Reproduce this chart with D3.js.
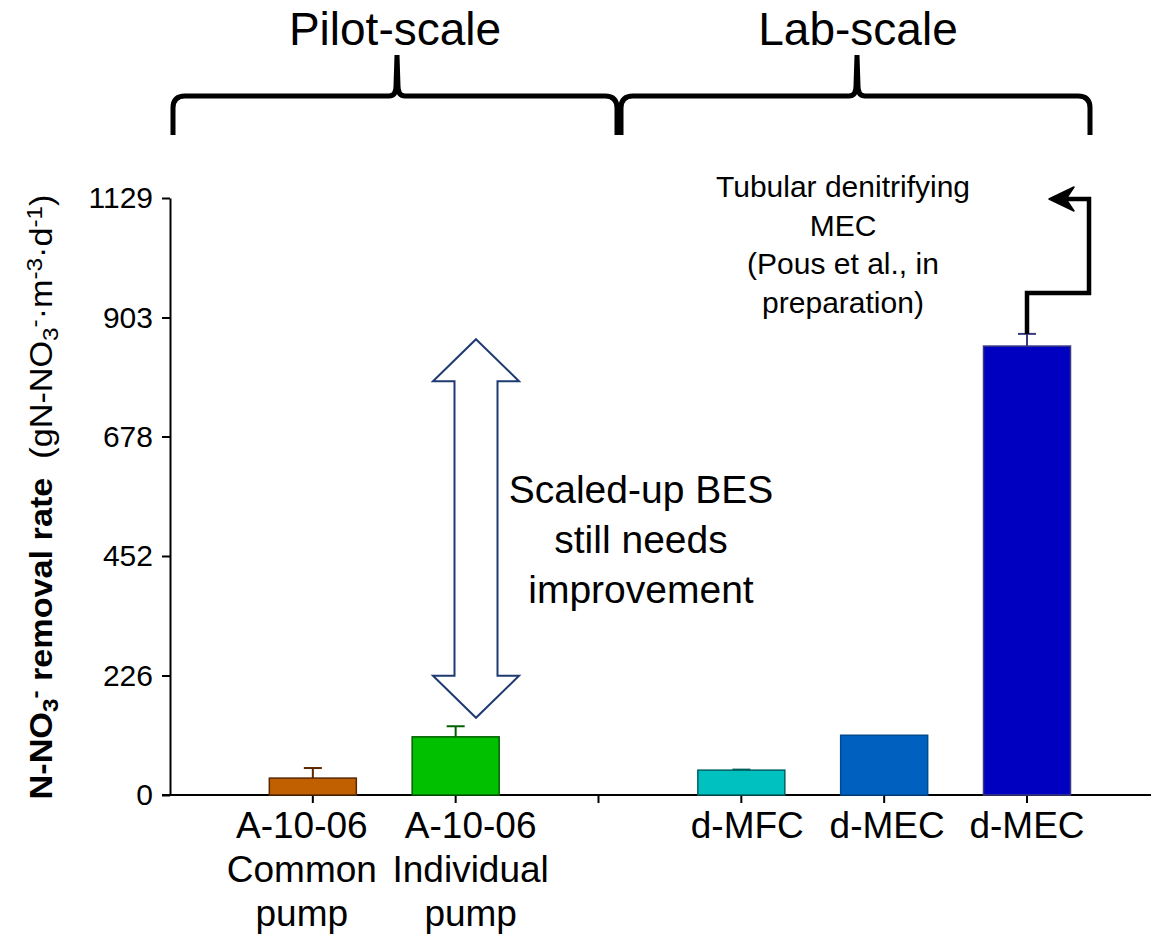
<!DOCTYPE html>
<html>
<head>
<meta charset="utf-8">
<script src="https://cdn.jsdelivr.net/npm/d3@7"></script>
<style>
  body { margin: 0; background: #fff; }
  svg { display: block; font-family: "Liberation Sans", Arial, sans-serif; }
</style>
</head>
<body>
<svg id="chart" width="1151" height="941"></svg>
<script>
// slots along the x axis: an empty origin slot, two pilot bars, a separator tick, three lab bars
const slots = ["origin", "A1", "A2", "sep", "MFC", "MEC1", "MEC2"];
const barSlots = ["A1", "A2", "MFC", "MEC1", "MEC2"];
const barLabels = [["A-10-06", "Common", "pump"], ["A-10-06", "Individual", "pump"], ["d-MFC"], ["d-MEC"], ["d-MEC"]];
const labelShift = [-11, 15, 6, 3, 0];   // the pilot labels sit a little apart from their ticks
const values = [32, 110, 47, 113, 849];
const errors = [19, 20, 1, 0, 23];
const fills = ["#C06000", "#00C000", "#00C0C0", "#0060C0", "#0000C0"];
const strokes = ["#5A2800", "#006000", "#006060", "#004A90", "#3A3A80"];
const yTicks = [0, 226, 452, 678, 903, 1129];

const svg = d3.select("#chart");

const x = d3.scalePoint().domain(slots).range([170, 1027]);
const y = d3.scaleLinear().domain([0, 1129]).range([795, 198]);
const barW = 87;

// y axis
const yAxis = svg.append("g")
    .attr("transform", "translate(170,0)")
    .call(d3.axisLeft(y).tickValues(yTicks).tickFormat(d3.format("d"))
        .tickSize(8).tickSizeOuter(0).tickPadding(9));
yAxis.select(".domain").attr("stroke", "#000").attr("stroke-width", 2);
yAxis.selectAll(".tick line").attr("stroke", "#000").attr("stroke-width", 2);
yAxis.selectAll(".tick text")
    .attr("fill", "#000")
    .style("font-size", "30px")
    .style("font-family", "Liberation Sans, Arial, sans-serif");

// x axis (line runs off to the right edge)
svg.append("line")
    .attr("x1", 162).attr("x2", 1151)
    .attr("y1", y(0)).attr("y2", y(0))
    .attr("stroke", "#000").attr("stroke-width", 2);
svg.append("g").selectAll("line")
    .data(slots.slice(1))
    .join("line")
    .attr("x1", d => x(d)).attr("x2", d => x(d))
    .attr("y1", y(0)).attr("y2", y(0) + 8)
    .attr("stroke", "#000").attr("stroke-width", 2);

// x labels
svg.append("g").selectAll("text")
    .data(barSlots)
    .join("text")
    .attr("text-anchor", "middle")
    .style("font-size", "37px")
    .attr("fill", "#000")
    .each(function(d, i) {
        d3.select(this).selectAll("tspan")
            .data(barLabels[i])
            .join("tspan")
            .attr("x", x(d) + labelShift[i])
            .attr("y", (t, j) => 838 + j * 44)
            .text(t => t);
    });

// error bars (drawn under the bars)
const err = svg.append("g");
barSlots.forEach((s, i) => {
    if (errors[i] <= 0) return;
    const cx = x(s);
    err.append("line")
        .attr("x1", cx).attr("x2", cx)
        .attr("y1", y(values[i])).attr("y2", y(values[i] + errors[i]))
        .attr("stroke", strokes[i]).attr("stroke-width", 2);
    err.append("line")
        .attr("x1", cx - 9).attr("x2", cx + 9)
        .attr("y1", y(values[i] + errors[i])).attr("y2", y(values[i] + errors[i]))
        .attr("stroke", strokes[i]).attr("stroke-width", 2);
});

// bars
svg.append("g").selectAll("rect")
    .data(barSlots)
    .join("rect")
    .attr("x", d => x(d) - barW / 2)
    .attr("width", barW)
    .attr("y", (d, i) => y(values[i]))
    .attr("height", (d, i) => y(0) - y(values[i]))
    .attr("fill", (d, i) => fills[i])
    .attr("stroke", (d, i) => strokes[i])
    .attr("stroke-width", 1.5);

// y axis title, stretched along its length to span the axis like the original
const yTitle = svg.append("text")
    .attr("text-anchor", "middle")
    .attr("fill", "#000")
    .style("font-size", "31px");
const bold = [["N-NO", null], ["3", "sub"], ["-", "sup"], [" removal rate", null]];
const normal = [["\u00A0\u00A0(gN-NO", null], ["3", "sub"], ["-", "sup"], ["·m", null], ["-3", "sup"], ["·d", null], ["-1", "sup"], [")", null]];
bold.forEach(([t, k]) => yTitle.append("tspan").text(t)
    .style("font-weight", "bold")
    .style("font-size", k ? "22px" : "31px")
    .attr("baseline-shift", k === "sub" ? "-25%" : k === "sup" ? "50%" : null));
normal.forEach(([t, k]) => yTitle.append("tspan").text(t)
    .style("font-size", k ? "22px" : "31px")
    .attr("baseline-shift", k === "sub" ? "-25%" : k === "sup" ? "50%" : null));
const titleLen = yTitle.node().getBBox().width;
yTitle.attr("transform", `translate(52,497) rotate(-90) scale(${605 / titleLen},1)`);

// group braces
function brace(x0, x1, xm, top, tip, bottom) {
    const r = 12;
    return `M${x0},${bottom} L${x0},${top + r} Q${x0},${top} ${x0 + r},${top}` +
        ` L${xm - 8},${top} Q${xm - 1},${top} ${xm - 1},${top - 10} L${xm},${tip}` +
        ` L${xm + 1},${top - 10} Q${xm + 1},${top} ${xm + 8},${top}` +
        ` L${x1 - r},${top} Q${x1},${top} ${x1},${top + r} L${x1},${bottom}`;
}
svg.append("path").attr("d", brace(173, 617, 397, 96, 55, 135))
    .attr("fill", "none").attr("stroke", "#000").attr("stroke-width", 5);
svg.append("path").attr("d", brace(621, 1090, 857, 96, 55, 135))
    .attr("fill", "none").attr("stroke", "#000").attr("stroke-width", 5);

svg.append("text").attr("x", 395).attr("y", 45).attr("text-anchor", "middle")
    .style("font-size", "46px").text("Pilot-scale");
svg.append("text").attr("x", 858).attr("y", 45).attr("text-anchor", "middle")
    .style("font-size", "46px").text("Lab-scale");

// hollow double arrow
const ax = 476, aTop = y(862), aBot = y(146), headH = 42, headW = 43, shaftW = 21.5;
svg.append("path")
    .attr("d", `M${ax},${aTop} L${ax + headW},${aTop + headH} L${ax + shaftW},${aTop + headH}` +
        ` L${ax + shaftW},${aBot - headH} L${ax + headW},${aBot - headH} L${ax},${aBot}` +
        ` L${ax - headW},${aBot - headH} L${ax - shaftW},${aBot - headH} L${ax - shaftW},${aTop + headH}` +
        ` L${ax - headW},${aTop + headH} Z`)
    .attr("fill", "#fff").attr("stroke", "#1F3A70").attr("stroke-width", 2);

const note = svg.append("text").attr("text-anchor", "middle").style("font-size", "39px").attr("fill", "#000");
["Scaled-up BES", "still needs", "improvement"].forEach((t, i) =>
    note.append("tspan").attr("x", 641).attr("y", 503 + i * 50).text(t));

const note2 = svg.append("text").attr("text-anchor", "middle").style("font-size", "30px").attr("fill", "#000");
["Tubular denitrifying", "MEC", "(Pous et al., in", "preparation)"].forEach((t, i) =>
    note2.append("tspan").attr("x", 843).attr("y", 197 + i * 38.5).text(t));

// elbow arrow from the last bar to the note
const ex = x("MEC2"), ey = y(values[4] + errors[4]);
svg.append("path")
    .attr("d", `M${ex},${ey} L${ex},293 L1089,293 L1089,199 L1054,199`)
    .attr("fill", "none").attr("stroke", "#000").attr("stroke-width", 4.5);
svg.append("path")
    .attr("d", "M1049,199 L1074,187 L1066,199 L1074,211 Z")
    .attr("fill", "#000").attr("stroke", "#000").attr("stroke-width", 1.5).attr("stroke-linejoin", "round");
</script>
</body>
</html>
